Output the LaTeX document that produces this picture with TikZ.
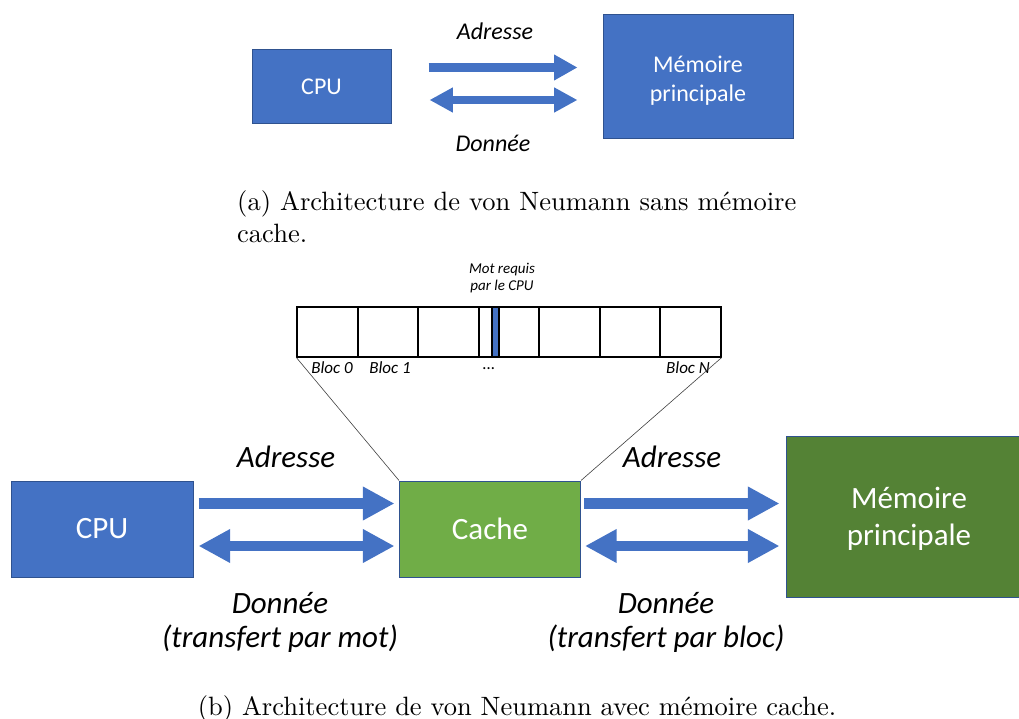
\documentclass[tikz,border=0pt]{standalone}
\usepackage{fontspec}
\usepackage{graphicx}
\usetikzlibrary{arrows.meta}
\newfontfamily\calfont{Carlito}
\definecolor{oblue}{HTML}{4472C4}
\definecolor{oborder}{HTML}{2F528F}
\definecolor{ogreen}{HTML}{70AD47}
\definecolor{dgreen}{HTML}{548235}
\tikzset{
  box/.style={draw=oborder, line width=1pt, fill=oblue, text=white, inner sep=0pt, align=center},
  boxtext/.style={text=white, inner sep=0pt, align=center},
  sarrow/.style={draw=oblue, line width=8.3pt, -{Triangle[length=23.4pt,width=24.3pt]}},
  sdarrow/.style={draw=oblue, line width=8pt, {Triangle[length=23.4pt,width=23.5pt]}-{Triangle[length=23.4pt,width=23.5pt]}},
  barrow/.style={draw=oblue, line width=10.7pt, -{Triangle[length=31.7pt,width=31.7pt]}},
  bdarrow/.style={draw=oblue, line width=10.7pt, {Triangle[length=31.7pt,width=31.7pt]}-{Triangle[length=31.7pt,width=31.7pt]}},
  slbl/.style={font=\calfont\itshape\fontsize{24}{28}\selectfont, inner sep=0pt},
  blbl/.style={font=\calfont\itshape\fontsize{31}{34.3}\selectfont, inner sep=0pt, align=center},
  tiny/.style={font=\calfont\itshape\fontsize{15}{16.5}\selectfont, inner sep=0pt, align=center},
  blk/.style={font=\calfont\itshape\fontsize{17}{20}\selectfont, inner sep=0pt},
  cell/.style={line width=1.2pt, draw=black},
  zoomline/.style={line width=0.6pt, draw=black!75},
}
\begin{document}
\begin{tikzpicture}[x=1pt, y=-1pt]
\useasboundingbox (0,0) rectangle (1019,719);
\clip (0,0) rectangle (1019,719);

% ---------- (a) ----------
\node[box, minimum width=139pt, minimum height=74pt, font=\calfont\fontsize{24}{28}\selectfont] (cpuA) at (321.5,87) {CPU};
\node[box, minimum width=190pt, minimum height=124pt] (memA) at (698,77) {};
\node[boxtext, font=\calfont\fontsize{24}{29}\selectfont] (memAtxt) at ([yshift=-3.5pt]memA.center) {Mémoire\\principale};

\draw[sarrow] ([xshift=37pt,yshift=19.5pt]cpuA.east) -- ([xshift=-25pt,yshift=9.5pt]memA.west);
\draw[sdarrow] ([xshift=38pt,yshift=-13pt]cpuA.east) -- ([xshift=-25pt,yshift=-23pt]memA.west);

\node[slbl] (adrA) at (495,31) {Adresse};
\node[slbl] (donA) at (493,143) {Donnée};

\node[anchor=north west, inner sep=0pt] (capA) at (237,188.5)
  {\scalebox{2.65}{\begin{tabular}{@{}l@{}}\hbox to 211pt{(a) Architecture de von Neumann sans mémoire}\\ cache.\end{tabular}}};

% ---------- (b) ----------
\node[draw=black, line width=1.2pt, minimum width=424pt, minimum height=50pt, inner sep=0pt] (strip) at (509,332) {};
\draw[cell, fill=oblue] (492,307) rectangle (499,357);
\foreach \xx in {358,418,479,539,600,660} \draw[cell] (\xx,307) -- (\xx,357);

\node[tiny] (mot) at (502,278) {Mot requis\\par le CPU};
\node[blk] (b0) at (332,368) {Bloc 0};
\node[blk] (b1) at (390,368) {Bloc 1};
\node[blk] (bd) at (489,369) {...};
\node[blk] (bn) at (688,368) {Bloc N};

\node[box, minimum width=182pt, minimum height=96pt, font=\calfont\fontsize{31}{37}\selectfont] (cpuB) at (102,529) {CPU};
\node[box, fill=ogreen, minimum width=181pt, minimum height=96pt, font=\calfont\fontsize{31}{37}\selectfont] (cache) at (490,529) {Cache};
\node[box, fill=dgreen, minimum width=246pt, minimum height=161pt] (memB) at (909,516.5) {};
\node[boxtext, font=\calfont\fontsize{31}{37}\selectfont] (memBtxt) at ([yshift=-2.5pt]memB.center) {Mémoire\\principale};

\draw[zoomline] (strip.south west) -- (cache.north west);
\draw[zoomline] (strip.south east) -- (cache.north east);

\draw[barrow] ([xshift=5pt,yshift=25.5pt]cpuB.east) -- ([xshift=-4.5pt,yshift=25.5pt]cache.west);
\draw[bdarrow] ([xshift=5pt,yshift=-17pt]cpuB.east) -- ([xshift=-4.5pt,yshift=-17pt]cache.west);
\draw[barrow] ([xshift=3pt,yshift=25.5pt]cache.east) -- ([xshift=-6pt,yshift=13pt]memB.west);
\draw[bdarrow] ([xshift=4pt,yshift=-17pt]cache.east) -- ([xshift=-6pt,yshift=-29.5pt]memB.west);

\node[blbl] (adrB1) at (286,457) {Adresse};
\node[blbl] (donB1) at (280,622.5) {Donnée\\(transfert par mot)};
\node[blbl] (adrB2) at (672,457) {Adresse};
\node[blbl] (donB2) at (666,622.5) {Donnée\\(transfert par bloc)};

\node[anchor=base, inner sep=0pt] (capB) at (517,715)
  {\scalebox{2.65}{(b) Architecture de von Neumann avec mémoire cache.}};
\end{tikzpicture}
\end{document}
